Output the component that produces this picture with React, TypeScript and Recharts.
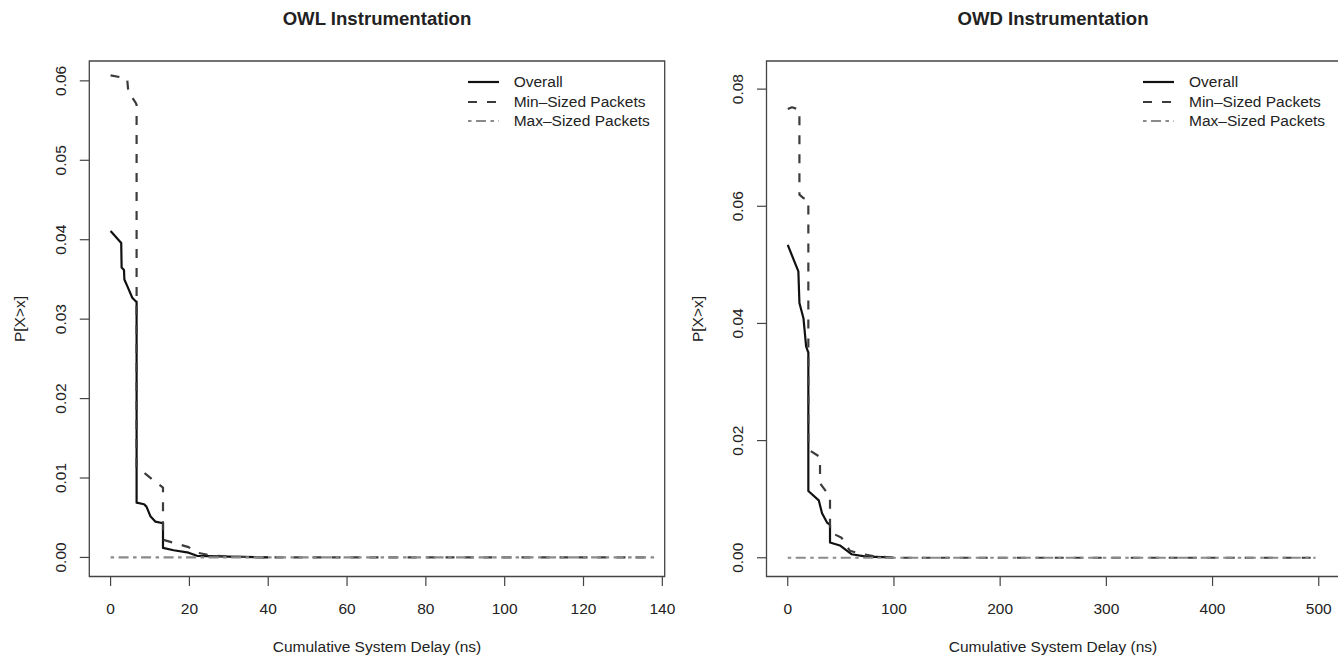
import React from 'react';
import {
  LineChart,
  Line,
  XAxis,
  YAxis,
  ReferenceArea,
  Legend,
} from 'recharts';

// OWL panel (x in ns, y = P[X>x])
const owlOverallX = [0, 2.7, 2.8, 3.4, 3.5, 4.3, 5.5, 6.5, 6.6, 6.6, 8.5, 9.1, 10.1, 11.4, 13.3, 13.3, 16, 19.8, 21.9, 30, 40];
const owlOverallY = [0.0411, 0.0396, 0.0365, 0.0362, 0.035, 0.0341, 0.0327, 0.0322, 0.0322, 0.0069, 0.0067, 0.0064, 0.0052, 0.0045, 0.0043, 0.0012, 0.0009, 0.0006, 0.0002, 0.0001, 0];
const owlMinX = [0, 4.2, 4.5, 6.3, 6.6, 6.6, 12.2, 13.3, 13.3, 19.8, 22, 25, 30, 40, 138];
const owlMinY = [0.0607, 0.0603, 0.0586, 0.0573, 0.057, 0.0114, 0.0092, 0.0088, 0.00223, 0.0013, 0.0006, 0.0003, 0.0001, 0, 0];
const owlMaxX = [0, 138];
const owlMaxY = [0, 0];
const owlXTicks = [0, 20, 40, 60, 80, 100, 120, 140];
const owlYTicks = [0, 0.01, 0.02, 0.03, 0.04, 0.05, 0.06];

// OWD panel
const owdOverallX = [0, 10, 11, 14.8, 17.3, 19.2, 19.4, 19.4, 29.2, 32.3, 37, 39.8, 39.8, 49.1, 60, 74, 90, 100];
const owdOverallY = [0.0534, 0.0489, 0.0435, 0.0409, 0.0361, 0.0351, 0.0351, 0.0114, 0.0098, 0.0076, 0.006, 0.0056, 0.0026, 0.0021, 0.0006, 0.0002, 0.0001, 0];
const owdMinX = [0, 4, 11, 11, 14.8, 19.4, 19.4, 30.4, 30.4, 39.8, 39.8, 50.7, 58.5, 68, 80.5, 100, 497];
const owdMinY = [0.0766, 0.0769, 0.0765, 0.062, 0.0614, 0.0612, 0.01846, 0.0172, 0.0127, 0.0104, 0.0044, 0.0034, 0.0012, 0.0007, 0.0003, 0, 0];
const owdMaxX = [0, 497];
const owdMaxY = [0, 0];
const owdXTicks = [0, 100, 200, 300, 400, 500];
const owdYTicks = [0, 0.02, 0.04, 0.06, 0.08];

const seriesNames = ['Overall', 'Min\u2013Sized Packets', 'Max\u2013Sized Packets'];

const FONT = '"Liberation Sans", Arial, Helvetica, sans-serif';
const FS = 15.5;
const TXT = '#222';

const STYLES = [
  { stroke: '#111', width: 2.2, dash: undefined as string | undefined },
  { stroke: '#3c3c3c', width: 2.2, dash: '9 10' },
  { stroke: '#8a8a8a', width: 2.2, dash: '3.5 4.5 10 4.5' },
];

const zip = (xs: number[], ys: number[]) => xs.map((x, i) => ({ x, y: ys[i] }));

function LegendBox() {
  return (
    <div style={{ fontFamily: FONT, fontSize: FS, color: TXT }}>
      {seriesNames.map((name, i) => (
        <div key={name} style={{ display: 'flex', alignItems: 'center', height: 19.5, whiteSpace: 'nowrap' }}>
          <svg width={31} height={6} style={{ marginRight: 15, flex: 'none' }}>
            <line
              x1={0}
              y1={3}
              x2={31}
              y2={3}
              stroke={STYLES[i].stroke}
              strokeWidth={STYLES[i].width}
              strokeDasharray={STYLES[i].dash}
            />
          </svg>
          <span>{name}</span>
        </div>
      ))}
    </div>
  );
}

interface PanelProps {
  width: number;
  left: number;
  right: number;
  xDomain: [number, number];
  yDomain: [number, number];
  xTicks: number[];
  yTicks: number[];
  yTickX: number;
  legendLeft: number;
  series: { x: number; y: number }[][];
}

const TOP = 61;
const BOTTOM = 576.5;
const H = 657;

function Panel({ width, left, right, xDomain, yDomain, xTicks, yTicks, yTickX, legendLeft, series }: PanelProps) {
  const XTick = ({ x, payload }: any) => (
    <text x={x} y={608.3} textAnchor="middle" dominantBaseline="central" fontSize={FS} fill={TXT} fontFamily={FONT}>
      {payload.value}
    </text>
  );
  const YTick = ({ y, payload }: any) => (
    <text
      x={yTickX}
      y={y}
      transform={`rotate(-90 ${yTickX} ${y})`}
      textAnchor="middle"
      dominantBaseline="central"
      fontSize={FS}
      fill={TXT}
      fontFamily={FONT}
    >
      {Number(payload.value).toFixed(2)}
    </text>
  );
  return (
    <div style={{ position: 'absolute', left: 0, top: 0 }}>
      <LineChart
        width={width}
        height={H}
        margin={{ top: TOP, left: left - 60, right: width - right, bottom: H - BOTTOM - 30 }}
      >
        <XAxis
          type="number"
          dataKey="x"
          domain={xDomain}
          ticks={xTicks}
          interval={0}
          allowDataOverflow
          axisLine={false}
          tickLine={{ stroke: '#444', strokeWidth: 1.2 }}
          tickSize={9.5}
          height={30}
          tick={<XTick />}
        />
        <YAxis
          type="number"
          dataKey="y"
          domain={yDomain}
          ticks={yTicks}
          interval={0}
          allowDataOverflow
          axisLine={false}
          tickLine={{ stroke: '#444', strokeWidth: 1.2 }}
          tickSize={9.5}
          width={60}
          tick={<YTick />}
        />
        <ReferenceArea
          x1={xDomain[0]}
          x2={xDomain[1]}
          y1={yDomain[0]}
          y2={yDomain[1]}
          fill="none"
          stroke="#444"
          strokeWidth={1.3}
          ifOverflow="visible"
        />
        {series.map((d, i) => (
          <Line
            key={seriesNames[i]}
            data={d}
            dataKey="y"
            name={seriesNames[i]}
            type="linear"
            stroke={STYLES[i].stroke}
            strokeWidth={STYLES[i].width}
            strokeDasharray={STYLES[i].dash}
            strokeLinejoin="round"
            dot={false}
            activeDot={false}
            isAnimationActive={false}
          />
        ))}
        <Legend
          layout="vertical"
          align="center"
          verticalAlign="middle"
          wrapperStyle={{ left: legendLeft, top: 72.25, width: 220 }}
          content={() => <LegendBox />}
        />
      </LineChart>
    </div>
  );
}

function Txt({ x, y, text, bold, rotate, size }: { x: number; y: number; text: string; bold?: boolean; rotate?: boolean; size?: number }) {
  return (
    <div
      style={{
        position: 'absolute',
        left: x,
        top: y,
        transform: `translate(-50%, -50%)${rotate ? ' rotate(-90deg)' : ''}`,
        whiteSpace: 'nowrap',
        lineHeight: 1,
        fontFamily: FONT,
        fontSize: size ?? FS,
        fontWeight: bold ? 'bold' : 'normal',
        color: TXT,
      }}
    >
      {text}
    </div>
  );
}

export default function App() {
  const owlSeries = [zip(owlOverallX, owlOverallY), zip(owlMinX, owlMinY), zip(owlMaxX, owlMaxY)];
  const owdSeries = [zip(owdOverallX, owdOverallY), zip(owdMinX, owdMinY), zip(owdMaxX, owdMaxY)];
  const midY = (TOP + BOTTOM) / 2;
  return (
    <div style={{ position: 'absolute', left: 0, top: 0, width: 1338, height: 657, overflow: 'hidden', background: '#fff' }}>
      <Panel
        width={1338}
        left={89.3}
        right={664.7}
        xDomain={[-5.4, 140.6]}
        yDomain={[-0.0024, 0.0625]}
        xTicks={owlXTicks}
        yTicks={owlYTicks}
        yTickX={60.5}
        legendLeft={467.7}
        series={owlSeries}
      />
      <Panel
        width={1400}
        left={766.5}
        right={1340}
        xDomain={[-20, 520]}
        yDomain={[-0.0032, 0.0848]}
        xTicks={owdXTicks}
        yTicks={owdYTicks}
        yTickX={737.2}
        legendLeft={1143}
        series={owdSeries}
      />
      <Txt x={377} y={19} text="OWL Instrumentation" bold size={18.6} />
      <Txt x={1053} y={19} text="OWD Instrumentation" bold size={18.6} />
      <Txt x={377} y={647} text="Cumulative System Delay (ns)" />
      <Txt x={1053} y={647} text="Cumulative System Delay (ns)" />
      <Txt x={20} y={midY} text="P[X>x]" rotate />
      <Txt x={697.5} y={midY} text="P[X>x]" rotate />
    </div>
  );
}
